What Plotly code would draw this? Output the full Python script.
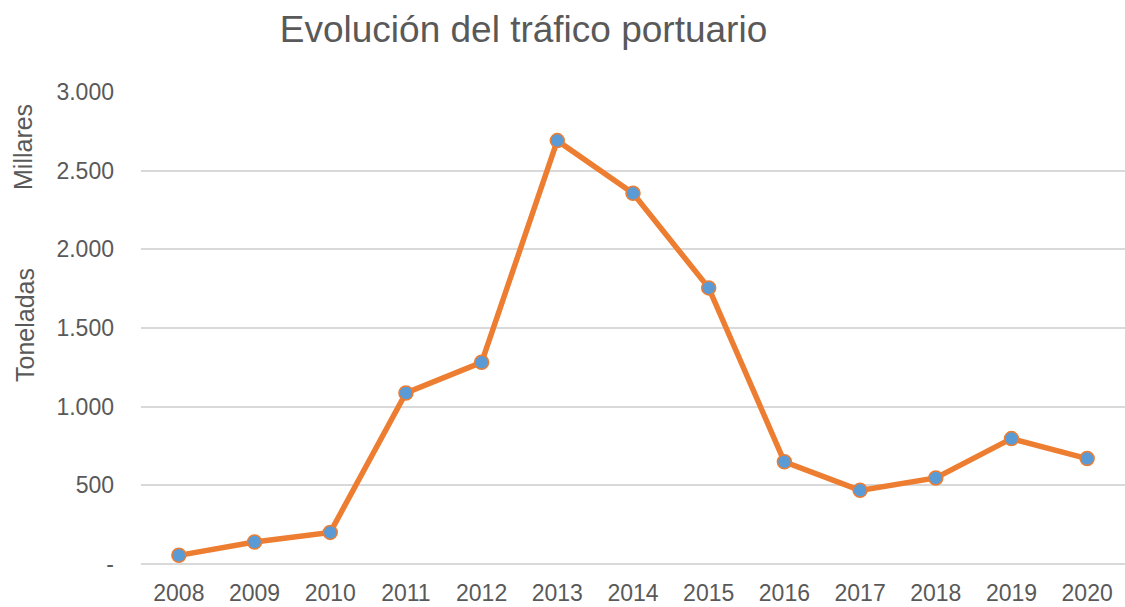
import plotly.graph_objects as go

years = ["2008", "2009", "2010", "2011", "2012", "2013", "2014",
         "2015", "2016", "2017", "2018", "2019", "2020"]
toneladas_miles = [55, 140, 201, 1087, 1282, 2691, 2356, 1755, 650, 468, 547, 797, 670]

y_tickvals = [0, 500, 1000, 1500, 2000, 2500, 3000]
y_ticktext = ["-", "500", "1.000", "1.500", "2.000", "2.500", "3.000"]

title_text = "Evolución del tráfico portuario"
y_title = "Toneladas"
y_units = "Millares"

TEXT = "#595959"
FONT = "Liberation Sans, Arial, sans-serif"

L, R, T, B = 141, 0, 92, 43
W, H = 1125, 607
plot_w = W - L - R
plot_h = H - T - B

fig = go.Figure()
fig.add_trace(go.Scatter(
    x=years, y=toneladas_miles, mode="lines+markers",
    line=dict(color="#ED7D31", width=5.5),
    marker=dict(size=14, color="#5B9BD5", line=dict(color="#ED7D31", width=1.5)),
    showlegend=False,
))


def ann(text, px, py):
    return dict(text=text, x=(px - L) / plot_w, y=(H - B - py) / plot_h,
                xref="paper", yref="paper", xanchor="center", yanchor="middle",
                showarrow=False, textangle=-90,
                font=dict(size=25, color=TEXT, family=FONT))


fig.update_layout(
    width=W, height=H,
    margin=dict(l=L, r=R, t=T, b=B),
    paper_bgcolor="white", plot_bgcolor="white",
    font=dict(family=FONT, color=TEXT, size=23),
    title=dict(text=title_text, x=523.5 / W, xanchor="center",
               xref="container", y=1 - 29 / H, yref="container", yanchor="middle",
               font=dict(size=37, color=TEXT, family=FONT)),
    xaxis=dict(type="category", range=[-0.5, 12.5], showgrid=False,
               showline=False, zeroline=False, ticks="",
               tickfont=dict(size=23, color=TEXT), ticklabelstandoff=13),
    yaxis=dict(range=[0, 3000], tickvals=y_tickvals, ticktext=y_ticktext,
               showgrid=True, gridcolor="#D9D9D9", gridwidth=1.5,
               zeroline=True, zerolinecolor="#D9D9D9", zerolinewidth=1.5,
               showline=False, ticks="", ticklabelstandoff=26,
               tickfont=dict(size=23, color=TEXT)),
    annotations=[ann(y_title, 25, 325), ann(y_units, 23, 147)],
)

fig.write_html("out.html", config={"displayModeBar": False},
               post_script="document.body.style.margin='0';")
